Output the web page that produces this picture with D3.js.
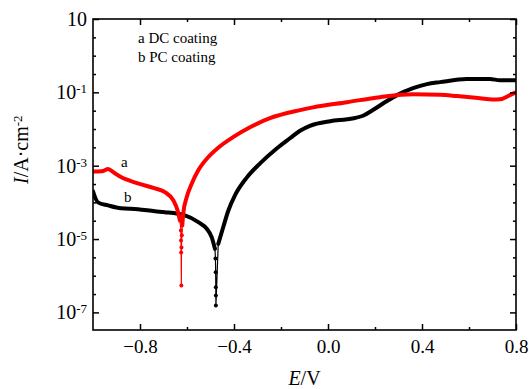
<!DOCTYPE html>
<html>
<head>
<meta charset="utf-8">
<script src="https://cdn.jsdelivr.net/npm/d3@7"></script>
<style>
  body { margin: 0; background: #fff; }
  svg text { font-family: "Liberation Serif", "Times New Roman", serif; fill: #000; }
</style>
</head>
<body>
<div id="plot"></div>
<script>
// potential (V) and current density (A/cm2)
var redE = [-1.000, -0.966, -0.957, -0.936, -0.910, -0.881, -0.809, -0.736, -0.694, -0.658, -0.640, -0.630,
            -0.626, -0.6255, -0.625, -0.624, -0.6235, -0.622, -0.620, -0.616, -0.601, -0.580, -0.552, -0.509,
            -0.467, -0.404, -0.332, -0.247, -0.119, -0.064, 0.081, 0.221, 0.362, 0.477, 0.549, 0.647,
            0.700, 0.732, 0.774, 0.800];
var redI = [7.0e-4, 7.1e-4, 7.2e-4, 8.1e-4, 6.4e-4, 4.9e-4, 3.3e-4, 2.4e-4, 1.9e-4, 1.13e-4, 6.0e-5, 3.2e-5,
            1.72e-5, 9.1e-6, 4.3e-6, 5.4e-7, 5.9e-6, 1.26e-5, 2.35e-5, 5.0e-5, 1.40e-4, 3.24e-4, 7.5e-4, 1.73e-3,
            3.1e-3, 6.0e-3, 1.12e-2, 1.97e-2, 3.27e-2, 3.9e-2, 5.4e-2, 7.4e-2, 8.9e-2, 8.6e-2, 7.9e-2, 6.9e-2,
            6.4e-2, 6.5e-2, 8.4e-2, 1.0e-1];

var blackE = [-1.000, -0.979, -0.936, -0.881, -0.809, -0.736, -0.694, -0.609, -0.552, -0.516, -0.495, -0.481,
              -0.479, -0.478, -0.4775, -0.4772, -0.477, -0.467, -0.446, -0.424, -0.396, -0.345, -0.289, -0.217,
              -0.162, -0.119, -0.077, 0.009, 0.081, 0.115, 0.149, 0.191, 0.251, 0.294, 0.362, 0.421, 0.477, 0.591,
              0.689, 0.732, 0.800];
var blackI = [2.0e-4, 1.0e-4, 8.3e-5, 6.9e-5, 6.5e-5, 5.7e-5, 5.4e-5, 4.4e-5, 2.9e-5, 1.91e-5, 1.13e-5, 5.4e-6,
              2.95e-6, 1.25e-6, 4.85e-7, 2.9e-7, 1.53e-7, 7.4e-6, 2.1e-5, 6.0e-5, 1.55e-4, 4.8e-4, 1.16e-3, 3.0e-3,
              5.6e-3, 9.0e-3, 1.22e-2, 1.63e-2, 1.85e-2, 2.0e-2, 2.3e-2, 3.3e-2, 5.8e-2, 8.4e-2, 0.130, 0.168, 0.19, 0.23,
              0.23, 0.215, 0.215];

var xMajor = [-0.8, -0.4, 0.0, 0.4, 0.8];
var xMinor = [-0.6, -0.2, 0.2, 0.6];
var yMajor = [1e1, 1e-1, 1e-3, 1e-5, 1e-7];
var yMinorExp = [0.5, 0, -0.5, -1.5, -2, -2.5, -3.5, -4, -4.5, -5.5, -6, -6.5];

var width = 529, height = 389;
var pL = 93, pR = 516, pT = 19, pB = 330;

var svg = d3.select("#plot").append("svg")
    .attr("width", width)
    .attr("height", height);

var x = d3.scaleLinear().domain([-1.0, 0.8]).range([pL, pR]);
var y = d3.scaleLog().domain([Math.pow(10, -7.48), 10]).range([pB, pT]);

svg.append("clipPath").attr("id", "clip")
  .append("rect")
    .attr("x", pL).attr("y", pT)
    .attr("width", pR - pL).attr("height", pB - pT);

function series(E, I) {
    return E.map(function(e, i) { return { E: e, I: I[i] }; });
}

function drawCurve(data, color, thr) {
    var g = svg.append("g").attr("clip-path", "url(#clip)");
    // thin connecting line (visible only in the dip)
    g.append("path")
        .datum(data)
        .attr("fill", "none")
        .attr("stroke", color)
        .attr("stroke-width", 1.2)
        .attr("d", d3.line().x(d => x(d.E)).y(d => y(d.I)));
    // thick dense part
    g.append("path")
        .datum(data)
        .attr("fill", "none")
        .attr("stroke", color)
        .attr("stroke-width", 4)
        .attr("stroke-linejoin", "round")
        .attr("stroke-linecap", "round")
        .attr("d", d3.line().defined(d => d.I >= thr).curve(d3.curveMonotoneX)
            .x(d => x(d.E)).y(d => y(d.I)));
    // sparse points at the bottom of the dip
    g.selectAll("circle")
        .data(data.filter(d => d.I < thr))
        .join("circle")
        .attr("cx", d => x(d.E))
        .attr("cy", d => y(d.I))
        .attr("r", 2)
        .attr("fill", color);
}

drawCurve(series(blackE, blackI), "#000", 5e-6);
drawCurve(series(redE, redI), "#ff0000", 2e-5);

// axes, ticks pointing inward
function styleAxis(g) {
    g.select(".domain").remove();
    g.selectAll(".tick line").attr("stroke", "#000").attr("stroke-width", 1.5);
}

var yMinor = yMinorExp.map(e => Math.pow(10, e));

// bottom
svg.append("g").attr("transform", `translate(0,${pB})`)
    .call(d3.axisBottom(x).tickValues(xMajor).tickSize(-6).tickPadding(10)
        .tickFormat(d3.format(".1f")))
    .call(styleAxis)
    .selectAll("text").style("font-size", "19px");
svg.append("g").attr("transform", `translate(0,${pB})`)
    .call(d3.axisBottom(x).tickValues(xMinor).tickSize(-3).tickFormat(""))
    .call(styleAxis);
// top
svg.append("g").attr("transform", `translate(0,${pT})`)
    .call(d3.axisTop(x).tickValues(xMajor).tickSize(-6).tickFormat(""))
    .call(styleAxis);
svg.append("g").attr("transform", `translate(0,${pT})`)
    .call(d3.axisTop(x).tickValues(xMinor).tickSize(-3).tickFormat(""))
    .call(styleAxis);

// left
var yLab = svg.append("g").attr("transform", `translate(${pL},0)`)
    .call(d3.axisLeft(y).tickValues(yMajor).tickSize(-6).tickPadding(6).tickFormat(""))
    .call(styleAxis);
yLab.selectAll(".tick text").each(function(d) {
    var t = d3.select(this).style("font-size", "20px");
    var ex = Math.round(Math.log10(d));
    t.append("tspan").text("10");
    if (ex !== 1) {
        t.append("tspan").attr("dy", "-0.45em").style("font-size", "13px").text(ex);
    }
});
svg.append("g").attr("transform", `translate(${pL},0)`)
    .call(d3.axisLeft(y).tickValues(yMinor).tickSize(-3).tickFormat(""))
    .call(styleAxis);
// right
svg.append("g").attr("transform", `translate(${pR},0)`)
    .call(d3.axisRight(y).tickValues(yMajor).tickSize(-6).tickFormat(""))
    .call(styleAxis);
svg.append("g").attr("transform", `translate(${pR},0)`)
    .call(d3.axisRight(y).tickValues(yMinor).tickSize(-3).tickFormat(""))
    .call(styleAxis);

// frame
svg.append("rect")
    .attr("x", pL).attr("y", pT)
    .attr("width", pR - pL).attr("height", pB - pT)
    .attr("fill", "none").attr("stroke", "#000").attr("stroke-width", 1.6);

// axis titles
var xt = svg.append("text")
    .attr("x", (pL + pR) / 2).attr("y", 385)
    .attr("text-anchor", "middle")
    .style("font-size", "20px");
xt.append("tspan").style("font-style", "italic").text("E");
xt.append("tspan").text("/V");

var yt = svg.append("text")
    .attr("transform", "translate(28,184) rotate(-90)")
    .style("font-size", "20px");
yt.append("tspan").style("font-style", "italic").text("I");
yt.append("tspan").text("/A\u00b7cm");
yt.append("tspan").attr("dy", "-0.45em").style("font-size", "13px").text("-2");

// legend and curve labels
svg.append("text").attr("x", 138).attr("y", 43).style("font-size", "15px").text("a DC coating");
svg.append("text").attr("x", 138).attr("y", 62).style("font-size", "15px").text("b PC coating");
svg.append("text").attr("x", 121).attr("y", 167).style("font-size", "15px").text("a");
svg.append("text").attr("x", 124).attr("y", 202).style("font-size", "15px").text("b");
</script>
</body>
</html>
